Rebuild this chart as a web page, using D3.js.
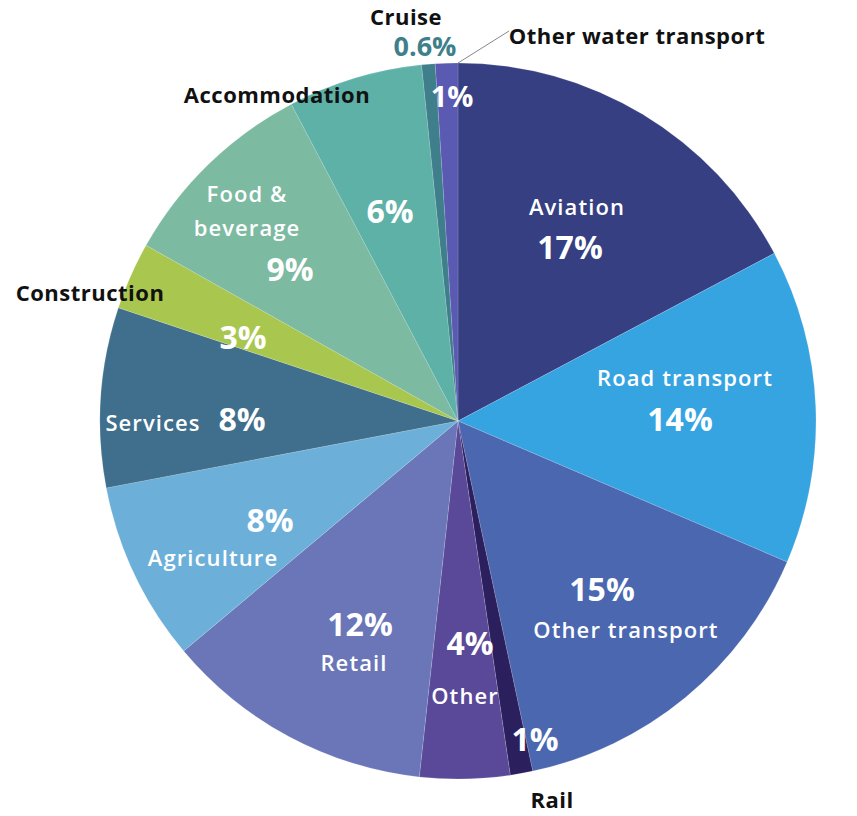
<!DOCTYPE html>
<html><head><meta charset="utf-8">
<script src="https://cdn.jsdelivr.net/npm/d3@7"></script>
<style>body{margin:0;background:#fff}svg{display:block}text{font-family:"Open Sans",Lato,sans-serif}</style>
</head><body>
<svg id="c" width="857" height="816"></svg>
<script>
// ---- data ----
const categories = ["Aviation","Road transport","Other transport","Rail","Other","Retail","Agriculture","Services","Construction","Food & beverage","Accommodation","Cruise","Other water transport"];
const shares = [17,14,15,1,4,12,8,8,3,9,6,0.6,1];
const pctLabels = ["17%","14%","15%","1%","4%","12%","8%","8%","3%","9%","6%","0.6%","1%"];
const colors = ["#353f82","#37a4e2","#4a67b0","#2b1f5e","#5a4898","#6a76b8","#6cb0da","#3f6f8d","#a9c74f","#7cbaa1","#5db1a7","#3f7f8b","#5a5ab2"];

// ---- layout (offsets from pie centre) ----
const cx = 458, cy = 421, R = 358;
const N = {c:"#fff",w:600,s:22,ls:1.1}, P = {c:"#fff",w:700,s:32,ls:0}, B = {c:"#111",w:700,s:22,ls:0.5};
const labelLayout = [
  [{t:"name",dx:119,dy:-214,...N},{t:"pct",dx:112,dy:-173,...P}],
  [{t:"name",dx:227,dy:-43,...N},{t:"pct",dx:222,dy:-1,...P}],
  [{t:"pct",dx:144,dy:169,...P},{t:"name",dx:168,dy:209,...N}],
  [{t:"pct",dx:77,dy:319,...P},{t:"name",dx:94,dy:379,...B}],
  [{t:"pct",dx:12,dy:223,...P},{t:"name",dx:7,dy:275,...N}],
  [{t:"pct",dx:-98,dy:204,...P},{t:"name",dx:-104,dy:242,...N}],
  [{t:"pct",dx:-188,dy:100,...P},{t:"name",dx:-245,dy:137,...N}],
  [{t:"name",dx:-305,dy:2,...N},{t:"pct",dx:-216,dy:-1,...P}],
  [{t:"pct",dx:-215,dy:-83,...P},{t:"name",dx:-368,dy:-128,...B}],
  [{t:"Food &",dx:-211,dy:-227,...N},{t:"beverage",dx:-211,dy:-193,...N},{t:"pct",dx:-168,dy:-151,...P}],
  [{t:"pct",dx:-68,dy:-209,...P},{t:"name",dx:-181,dy:-326,...B}],
  [{t:"name",dx:-52,dy:-404,...B},{t:"pct",dx:-33,dy:-374,...P,c:"#3f7f8b",s:27}],
  [{t:"name",dx:179,dy:-385,...B},{t:"pct",dx:-6,dy:-324,...P,s:29}]
];

const svg = d3.select("#c");
const g = svg.append("g").attr("transform",`translate(${cx},${cy})`);
const pie = d3.pie().sort(null).value(d=>d).startAngle(0).endAngle(2*Math.PI);
const arc = d3.arc().innerRadius(0).outerRadius(R);
const arcs = pie(shares);
g.selectAll("path.slice").data(arcs).enter().append("path")
  .attr("class","slice").attr("d",arc).attr("fill",(d,i)=>colors[i])
  .attr("stroke","rgba(255,255,255,0.2)").attr("stroke-width",0.7);

// leader line for Other water transport
const ow = arcs[12];
g.append("line")
  .attr("x1",Math.sin(ow.endAngle)*R).attr("y1",-Math.cos(ow.endAngle)*R)
  .attr("x2",51).attr("y2",-390)
  .attr("stroke","#888").attr("stroke-width",1);

labelLayout.forEach((lines,i)=>{
  lines.forEach(l=>{
    const txt = l.t==="name" ? categories[i] : l.t==="pct" ? pctLabels[i] : l.t;
    g.append("text").attr("x",l.dx).attr("y",l.dy).attr("dy","0.35em")
      .attr("text-anchor","middle").attr("fill",l.c).attr("font-weight",l.w)
      .attr("letter-spacing",l.ls).attr("font-size",l.s).text(txt);
  });
});
</script>
</body></html>
